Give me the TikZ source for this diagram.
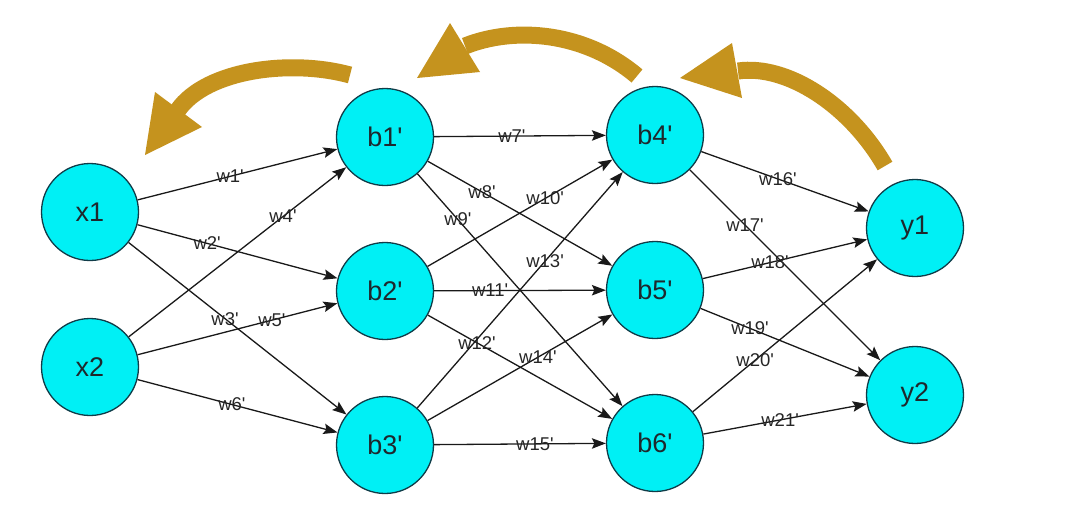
\documentclass[tikz,border=0pt]{standalone}
\usepackage{fontspec}
\setmainfont{Liberation Sans}[Ligatures=TeXOff]
\usetikzlibrary{arrows.meta}
\definecolor{nodefill}{RGB}{0,240,245}
\definecolor{nodeline}{RGB}{16,60,72}
\definecolor{gold}{RGB}{197,147,30}
\definecolor{txt}{RGB}{30,40,45}
\begin{document}
\begin{tikzpicture}[x=1pt,y=-1pt,
  neuron/.style={circle, draw=nodeline, fill=nodefill, line width=1.3pt, minimum size=97pt, inner sep=0pt, font=\fontsize{27}{27}\selectfont, text=txt},
  conn/.style={draw=black!90, line width=1.3pt, -{Stealth[length=14pt,width=10.5pt,inset=2.5pt]}},
  wlab/.style={font=\fontsize{18.5}{18.5}\selectfont, text=black!85, inner sep=0pt},
  band/.style={draw=gold, line width=17pt},
  head/.style={fill=gold}
]
\useasboundingbox (0,0) rectangle (1080,520);

% neurons
\node[neuron] (x1) at (90,212) {x1};
\node[neuron] (x2) at (90,367) {x2};
\node[neuron] (b1) at (385,137) {b1'};
\node[neuron] (b2) at (385,291) {b2'};
\node[neuron] (b3) at (385,445) {b3'};
\node[neuron] (b4) at (655,135) {b4'};
\node[neuron] (b5) at (655,290) {b5'};
\node[neuron] (b6) at (655,443) {b6'};
\node[neuron] (y1) at (915,228) {y1};
\node[neuron] (y2) at (915,395) {y2};

% connections with weights
\draw[conn] (x1) -- node[wlab, pos=0.463] {w1'} (b1);
\draw[conn] (x1) -- node[wlab, pos=0.348] {w2'} (b2);
\draw[conn] (x1) -- node[wlab, pos=0.443] {w3'} (b3);
\draw[conn] (x2) -- node[wlab, pos=0.709] {w4'} (b1);
\draw[conn] (x2) -- node[wlab, pos=0.672] {w5'} (b2);
\draw[conn] (x2) -- node[wlab, pos=0.472] {w6'} (b3);
\draw[conn] (b1) -- node[wlab, pos=0.453] {w7'} (b4);
\draw[conn] (b1) -- node[wlab, pos=0.294] {w8'} (b5);
\draw[conn] (b1) -- node[wlab, pos=0.197] {w9'} (b6);
\draw[conn] (b2) -- node[wlab, pos=0.636] {w10'} (b4);
\draw[conn] (b2) -- node[wlab, pos=0.326] {w11'} (b5);
\draw[conn] (b2) -- node[wlab, pos=0.267] {w12'} (b6);
\draw[conn] (b3) -- node[wlab, pos=0.622] {w13'} (b4);
\draw[conn] (b3) -- node[wlab, pos=0.597] {w14'} (b5);
\draw[conn] (b3) -- node[wlab, pos=0.587] {w15'} (b6);
\draw[conn] (b4) -- node[wlab, pos=0.458] {w16'} (y1);
\draw[conn] (b4) -- node[wlab, pos=0.29] {w17'} (y2);
\draw[conn] (b5) -- node[wlab, pos=0.409] {w18'} (y1);
\draw[conn] (b5) -- node[wlab, pos=0.293] {w19'} (y2);
\draw[conn] (b6) -- node[wlab, pos=0.338] {w20'} (y1);
\draw[conn] (b6) -- node[wlab, pos=0.47] {w21'} (y2);

% backward (gold) arrows
\draw[band] (350,75) .. controls (292,59) and (207,69) .. (178,110);
\fill[head] (145,155) -- (155,92) -- (202,127) -- cycle;

\draw[band] (637,76) .. controls (585,32) and (515,26) .. (465,46);
\fill[head] (417,78) -- (450,23) -- (480,72) -- cycle;

\draw[band] (885,166) .. controls (850,105) and (787,64) .. (738,71);
\fill[head] (680,78) -- (732,43) -- (742,98) -- cycle;
\end{tikzpicture}
\end{document}
